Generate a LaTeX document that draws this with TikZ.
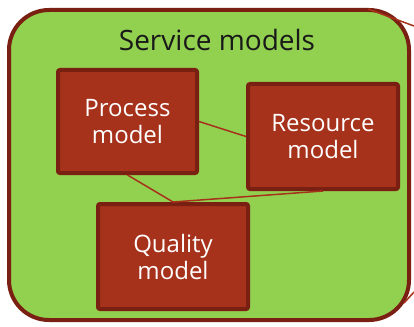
\documentclass[tikz,border=0pt]{standalone}
\usepackage{fontspec}
\setmainfont{Open Sans}
\usetikzlibrary{positioning}
\definecolor{svcgreen}{RGB}{146,208,80}
\definecolor{svcrim}{RGB}{122,32,18}
\definecolor{mdlfill}{RGB}{166,50,28}

\begin{document}
\begin{tikzpicture}[x=1pt, y=-1pt,
    outerbox/.style={draw=svcrim, fill=svcgreen, line width=4pt,
                     rounded corners=40pt, inner sep=0pt},
    mdlblk/.style={draw=svcrim, fill=mdlfill, line width=4pt,
                   rounded corners=2pt, align=center, text=white,
                   font=\fontsize{24}{27}\selectfont, inner sep=0pt},
    lnk/.style={draw=mdlfill, line width=1.5pt}
  ]
    \useasboundingbox (0,0) rectangle (414,326);

    \node[outerbox, minimum width=400pt, minimum height=310pt] (svc) at (209,165) {};
    \node[font=\fontsize{28}{32}\selectfont, text={black!90}] (title) at (217,40) {Service models};

    \node[mdlblk, minimum width=139pt, minimum height=103pt] (proc) at (127.5,121.5) {Process\\model};
    \node[mdlblk, minimum width=150pt, minimum height=105pt] (res)  at (323,136.5)   {Resource\\model};
    \node[mdlblk, minimum width=150pt, minimum height=105pt] (qual) at (173,256.5)   {Quality\\model};

    % outgoing links, cut off at the edge
    \coordinate (topin)  at (368,9);
    \coordinate (topout) at (414,26);
    \coordinate (botin)  at (404,303);
    \coordinate (botout) at (414,292);
    \draw[lnk] (topin) -- (topout);
    \draw[lnk] (botin) -- (botout);

    \draw[lnk] (proc.south) -- (qual.north);
    \draw[lnk] (res.south)  -- (qual.north);
    \draw[lnk] (proc.east)  -- (res.west);
  \end{tikzpicture}
\end{document}
